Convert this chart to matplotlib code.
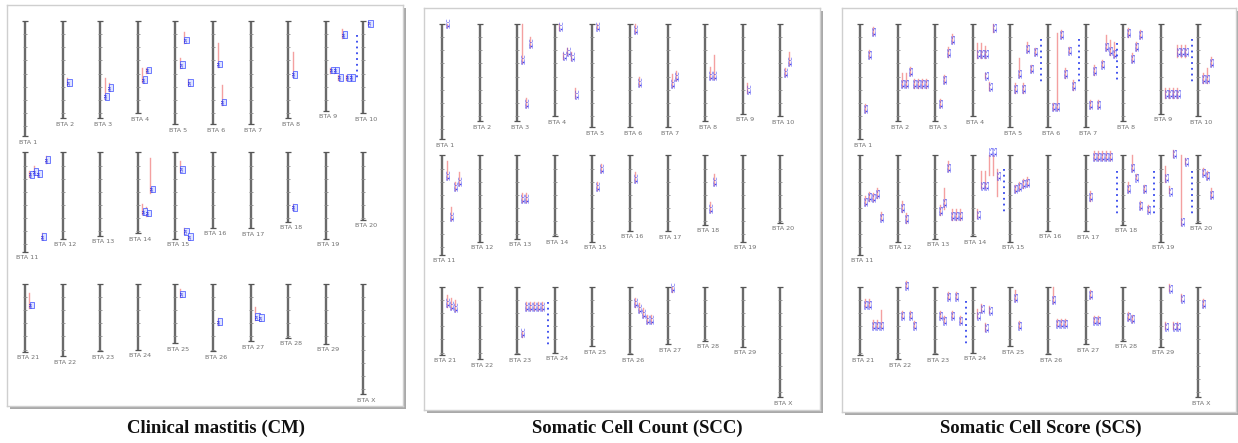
import numpy as np
import matplotlib.pyplot as plt
from matplotlib.patches import Rectangle

# chromosome names and drawn lengths (Mb), BTA1..29 + X
chrom_names = ['BTA %d' % i for i in range(1, 30)] + ['BTA X']
chrom_len = [158, 133, 133, 126, 141, 141, 141, 133, 123, 126,
             136, 118, 114, 111, 118, 103, 104, 95, 118, 92,
             93, 99, 92, 90, 81, 92, 79, 74, 82, 151]

# QTL: (chromosome, lane, CI start, CI end, peak) in Mb
cm_qtl = [
    (2, 0, 78, 88, 84),
    (3, 0, 78, 107, 103), (3, 1, 85, 96, 91),
    (4, 0, 64, 84, 80), (4, 1, 64, 71, 67),
    (5, 1, 15, 30, 26), (5, 0, 51, 64, 60), (5, 2, 79, 88, 84),
    (6, 0, 30, 63, 59), (6, 1, 88, 115, 111),
    (8, 0, 42, 77, 73),
    (9, 3, 11, 23, 19), (9, 0, 64, 71, 67), (9, 1, 64, 71, 67),
    (9, 2, 74, 81, 77), (9, 4, 74, 81, 77), (9, 5, 74, 81, 77),
    (10, 0, 1, 6, 3),
    (11, 0, 26, 34, 30), (11, 1, 19, 30, 26), (11, 2, 25, 33, 29),
    (11, 4, 5, 14, 10), (11, 3, 110, 119, 115),
    (14, 2, 8, 55, 50), (14, 0, 71, 85, 81), (14, 1, 75, 87, 83),
    (15, 0, 12, 27, 23), (15, 1, 103, 112, 108), (15, 2, 111, 119, 115),
    (18, 0, 70, 79, 75),
    (21, 0, 12, 33, 29),
    (25, 0, 7, 18, 14),
    (26, 0, 47, 56, 52),
    (27, 0, 32, 49, 45), (27, 1, 40, 50, 46),
]

scc_qtl = [
    (1, 0, 0, 4, -2),
    (3, 0, 0, 53, 47), (3, 2, 18, 32, 26), (3, 1, 101, 114, 108),
    (4, 0, 0, 8, 2), (4, 1, 40, 48, 42), (4, 2, 33, 42, 37),
    (4, 3, 38, 49, 44), (4, 4, 88, 101, 95),
    (5, 0, 0, 7, 2),
    (6, 0, 0, 12, 6), (6, 1, 73, 85, 79),
    (7, 0, 68, 86, 80), (7, 1, 64, 77, 71),
    (8, 0, 59, 75, 69), (8, 1, 42, 75, 69),
    (9, 0, 81, 95, 89),
    (10, 1, 38, 56, 50), (10, 0, 60, 71, 65),
    (11, 0, 8, 32, 26), (11, 2, 37, 47, 41), (11, 3, 23, 40, 34), (11, 1, 70, 88, 82),
    (13, 0, 51, 64, 58), (13, 1, 51, 64, 58),
    (15, 1, 12, 23, 17), (15, 0, 36, 47, 41),
    (16, 0, 23, 36, 30),
    (18, 1, 26, 40, 34), (18, 0, 64, 78, 72),
    (21, 0, 11, 27, 21), (21, 1, 16, 30, 24), (21, 2, 18, 33, 27),
    (23, 0, 60, 69, 62), (23, 1, 21, 32, 26), (23, 2, 21, 32, 26),
    (23, 3, 21, 32, 26), (23, 4, 21, 32, 26), (23, 5, 21, 32, 26),
    (26, 0, 15, 27, 21), (26, 1, 22, 34, 28), (26, 2, 29, 41, 35),
    (26, 3, 38, 49, 43), (26, 4, 38, 49, 43),
    (27, 0, 0, 7, 0),
]

scs_qtl = [
    (1, 2, 4, 15, 10), (1, 1, 36, 47, 41), (1, 0, 110, 121, 115),
    (2, 0, 67, 86, 80), (2, 1, 67, 86, 80), (2, 2, 59, 70, 64), (2, 3, 75, 88, 81),
    (2, 4, 75, 88, 81), (2, 5, 75, 88, 81), (2, 6, 75, 88, 81),
    (3, 3, 14, 26, 20), (3, 2, 32, 45, 38), (3, 1, 70, 81, 75), (3, 0, 103, 114, 108),
    (4, 4, 0, 11, 4), (4, 0, 26, 47, 40), (4, 1, 26, 47, 40), (4, 2, 30, 47, 40),
    (4, 2, 67, 74, 70), (4, 3, 79, 90, 85),
    (5, 1, 47, 73, 67), (5, 0, 81, 95, 88), (5, 2, 81, 95, 88), (5, 3, 25, 38, 32),
    (5, 4, 56, 66, 60), (5, 5, 33, 42, 37),
    (6, 0, 108, 118, 112), (6, 1, 12, 118, 112), (6, 2, 8, 19, 13), (6, 4, 31, 40, 35),
    (6, 3, 60, 74, 67), (6, 5, 77, 90, 83),
    (7, 1, 56, 70, 63), (7, 0, 104, 115, 110), (7, 2, 104, 115, 110), (7, 3, 49, 59, 54),
    (7, 4, 15, 36, 30), (7, 5, 22, 42, 36), (7, 6, 25, 45, 40),
    (8, 0, 5, 18, 11), (8, 3, 8, 19, 14), (8, 2, 25, 36, 30), (8, 1, 40, 52, 46),
    (9, 0, 88, 101, 94), (9, 1, 88, 101, 94), (9, 2, 88, 101, 94), (9, 3, 88, 101, 94),
    (9, 3, 29, 45, 37), (9, 4, 29, 45, 37), (9, 5, 29, 45, 37),
    (10, 0, 67, 81, 74), (10, 1, 60, 81, 74), (10, 2, 45, 58, 52),
    (11, 0, 56, 68, 62), (11, 1, 50, 63, 56), (11, 2, 52, 63, 57), (11, 3, 44, 58, 51),
    (11, 4, 78, 89, 84),
    (12, 0, 63, 77, 70), (12, 1, 79, 93, 86),
    (13, 2, 8, 22, 15), (13, 1, 45, 73, 64), (13, 0, 68, 82, 75), (13, 3, 74, 88, 81),
    (13, 4, 74, 88, 81), (13, 5, 74, 88, 81),
    (14, 0, 73, 86, 80), (14, 1, 22, 45, 40), (14, 2, 22, 45, 40), (14, 3, 0, 27, -6),
    (14, 4, 0, 27, -6), (14, 5, 18, 55, 26),
    (15, 0, 40, 50, 45), (15, 1, 37, 47, 42), (15, 2, 33, 44, 38), (15, 3, 30, 42, 36),
    (17, 0, 49, 62, 56), (17, 1, -6, 6, 0), (17, 2, -6, 6, 0), (17, 3, -6, 6, 0),
    (17, 4, -6, 6, 0), (17, 5, -6, 6, 0),
    (18, 1, 0, 22, 15), (18, 2, 25, 33, 29), (18, 0, 36, 50, 44), (18, 4, 40, 50, 45),
    (18, 3, 62, 73, 68), (18, 5, 68, 78, 73),
    (19, 0, 15, 36, 30), (19, 1, 42, 52, 48), (19, 4, 0, 96, 89), (19, 2, -8, 2, -4),
    (19, 5, 4, 12, 8),
    (20, 0, 17, 27, 22), (20, 1, 22, 32, 27), (20, 2, 45, 58, 52),
    (21, 0, 17, 28, 23), (21, 1, 17, 28, 23), (21, 2, 46, 57, 52), (21, 3, 46, 57, 52),
    (21, 4, 32, 57, 52),
    (22, 1, -8, 2, -3), (22, 0, 33, 43, 38), (22, 2, 33, 43, 38), (22, 3, 47, 57, 52),
    (23, 0, 33, 43, 38), (23, 1, 40, 50, 45), (23, 2, 7, 17, 12), (23, 3, 33, 43, 38),
    (23, 4, 7, 17, 12), (23, 5, 40, 50, 45),
    (24, 0, 30, 43, 38), (24, 1, 24, 34, 29), (24, 2, 50, 60, 55), (24, 3, 26, 36, 31),
    (25, 0, 5, 19, 14), (25, 1, 47, 57, 52),
    (26, 0, 0, 22, 17), (26, 1, 44, 54, 49), (26, 2, 44, 54, 49), (26, 3, 44, 54, 49),
    (27, 0, 5, 15, 10), (27, 1, 40, 50, 45), (27, 2, 40, 50, 45),
    (28, 0, 35, 45, 40), (28, 1, 38, 48, 43),
    (29, 1, -4, 6, 1), (29, 4, 10, 20, 15), (29, 0, 48, 58, 53), (29, 2, 48, 58, 53),
    (29, 3, 48, 58, 53),
    (30, 0, 17, 27, 22),
]

# stacks too dense to print, shown as dotted columns: (chromosome, start, end)
cm_dots = [(9, 19, 81)]
scc_dots = [(23, 21, 82)]
scs_dots = [(5, 21, 81), (6, 21, 81), (7, 26, 81), (9, 21, 81), (14, 18, 80),
            (17, 21, 80), (18, 21, 80), (19, 21, 80), (23, 19, 81)]

panel_titles = ['Clinical mastitis (CM)', 'Somatic Cell Count (SCC)', 'Somatic Cell Score (SCS)']
panel_tags = ['CM', 'SCC', 'SCS']
panel_qtl = [cm_qtl, scc_qtl, scs_qtl]
panel_dots = [cm_dots, scc_dots, scs_dots]

# layout (pixels)
W, H = 1238, 443
boxes = [(7, 5, 403, 406), (424, 8, 820, 410), (842, 8, 1236, 412)]
title_x = [216, 637, 1041]
COL_PX, FIRST_PX, TOP_PX, PX_PER_MB, ROW_GAP = 37.6, 18, 16, 0.73, 180

fig = plt.figure(figsize=(W / 100, H / 100), dpi=100)
fig.patch.set_facecolor('white')


def chrom_xy(i):
    return i % 10, (i // 10) * ROW_GAP


for k, (l, t, r, b) in enumerate(boxes):
    # drop shadow of the frame
    fig.patches.append(Rectangle(((l + 3) / W, 1 - (b + 3) / H), (r - l) / W, (b - t) / H,
                                 transform=fig.transFigure, fc='#a9a9a9', ec='none', zorder=-1))
    ax = fig.add_axes([l / W, 1 - b / H, (r - l) / W, (b - t) / H])
    ax.set_facecolor('white')
    ax.set_xlim(-FIRST_PX / COL_PX, (r - l - FIRST_PX) / COL_PX)
    ax.set_ylim((b - t - TOP_PX) / PX_PER_MB, -TOP_PX / PX_PER_MB)
    ax.set_xticks([])
    ax.set_yticks([])
    for s in ax.spines.values():
        s.set_color('#cfcfcf')
        s.set_linewidth(1)

    # chromosomes
    for i, (name, length) in enumerate(zip(chrom_names, chrom_len)):
        x, y0 = chrom_xy(i)
        ax.plot([x, x], [y0, y0 + length], color='#6a6a6a', lw=1.7, solid_capstyle='butt')
        tk = np.arange(0, length, 18)
        ax.plot([x] * len(tk), y0 + tk, ls='none', marker='_', ms=3, mew=0.6, color='#8c8c8c')
        ax.plot([x, x], [y0, y0 + length], ls='none', marker='_', ms=4, mew=0.9, color='#555555')
        ax.text(x + 0.07, y0 + length + 5, name, fontsize=4.6, color='#6f6f6f',
                ha='center', va='top', clip_on=True)

    # QTL intervals and labels
    tag = panel_tags[k]
    for c, lane, lo, hi, peak in panel_qtl[k]:
        x, y0 = chrom_xy(c - 1)
        xl = x + (7 + 4 * lane) / COL_PX
        ax.plot([xl - 2.5 / COL_PX] * 2, [y0 + lo, y0 + hi], color='#f4a0a0', lw=1)
        if tag == 'CM':
            box = dict(boxstyle='square,pad=0.05', fc='#dfe4ff', ec='#3b4cff', lw=0.5)
            ax.text(xl, y0 + peak, tag, rotation=90, fontsize=3.0, color='#2a2ae0',
                    ha='center', va='center', bbox=box)
        else:
            ax.text(xl, y0 + peak, tag, rotation=90, fontsize=3.8, color='#3a3af2',
                    ha='center', va='center')

    for c, lo, hi in panel_dots[k]:
        x, y0 = chrom_xy(c - 1)
        ax.plot([x + 31 / COL_PX] * 2, [y0 + lo, y0 + hi], color='#3344ee', lw=1.3,
                ls=(0, (1, 2.2)))

    fig.text(title_x[k] / W, 1 - 428 / H, panel_titles[k], ha='center', va='center',
             fontsize=13.5, family='Liberation Serif', weight='bold', color='#111111')

fig.savefig('out.png', dpi=100, facecolor='white')
